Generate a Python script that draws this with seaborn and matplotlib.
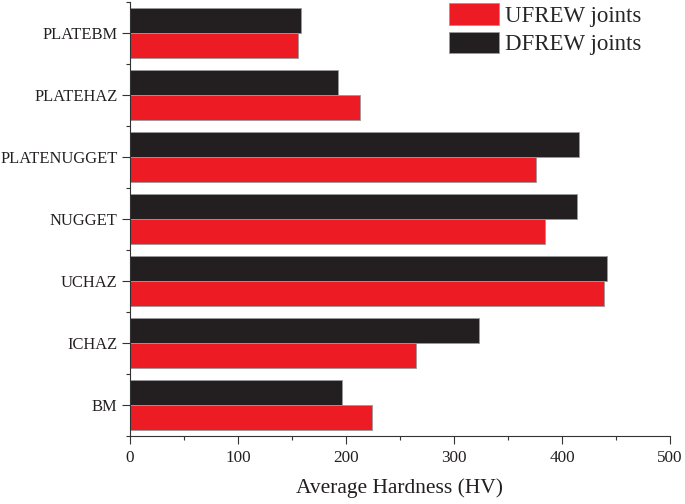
import matplotlib
matplotlib.use("Agg")
import matplotlib.pyplot as plt
import seaborn as sns
import pandas as pd
from matplotlib.patches import Patch
from matplotlib.ticker import MultipleLocator, FixedLocator

categories = ["PLATEBM", "PLATEHAZ", "PLATENUGGET", "NUGGET", "UCHAZ", "ICHAZ", "BM"]
ufrew = [156, 213, 376, 384, 439, 265, 224]
dfrew = [158, 193, 416, 414, 442, 323, 196]
series_names = ["UFREW joints", "DFREW joints"]
colors = {"UFREW joints": "#ED1C24", "DFREW joints": "#231F20"}

rows = []
for c, u, d in zip(categories, ufrew, dfrew):
    rows.append({"Zone": c, "Joint": "DFREW joints", "HV": d})
    rows.append({"Zone": c, "Joint": "UFREW joints", "HV": u})
df = pd.DataFrame(rows)

sns.set_theme(style="ticks")
plt.rcParams["font.family"] = ["Liberation Serif", "DejaVu Serif"]

fig = plt.figure(figsize=(6.85, 5.04), dpi=100)
ax = fig.add_axes([130/685, 1-436/504, 540/685, 434/504])

sns.barplot(data=df, y="Zone", x="HV", hue="Joint", order=categories,
            hue_order=["DFREW joints", "UFREW joints"], palette=colors,
            saturation=1, orient="h", width=0.8, ax=ax,
            edgecolor="#9a9a9a", linewidth=0.6, legend=False)

ax.set_xlim(0, 500)
ax.set_ylim(6.5, -0.5)
ax.xaxis.set_major_locator(MultipleLocator(100))
ax.xaxis.set_minor_locator(MultipleLocator(50))
ax.yaxis.set_minor_locator(FixedLocator([i - 0.5 for i in range(8)]))
ax.tick_params(axis="both", which="major", direction="out", length=6, width=0.8,
               color="#333333", labelsize=12.3, labelcolor="#231F20")
ax.tick_params(axis="y", which="major", labelsize=11.9, pad=3)
ax.tick_params(axis="both", which="minor", direction="out", length=3, width=0.8,
               color="#333333")
ax.tick_params(axis="x", which="major", pad=4)
for s in ["top", "right"]:
    ax.spines[s].set_visible(False)
for s in ["left", "bottom"]:
    ax.spines[s].set_color("#333333")
    ax.spines[s].set_linewidth(0.8)

ax.set_ylabel("")
ax.set_xlabel("Average Hardness (HV)", fontsize=15.5, color="#231F20", labelpad=9)

handles = [Patch(facecolor=colors[n], edgecolor="#9a9a9a", linewidth=0.6, label=n)
           for n in series_names]
ax.legend(handles=handles, loc="upper left", bbox_to_anchor=(446/685, 1.0),
          bbox_transform=fig.transFigure, frameon=False, fontsize=16.5,
          handlelength=2.15, handleheight=1.05, handletextpad=0.28,
          labelspacing=0.22, borderaxespad=0.0, borderpad=0.15)

fig.savefig("out.png", dpi=100)
